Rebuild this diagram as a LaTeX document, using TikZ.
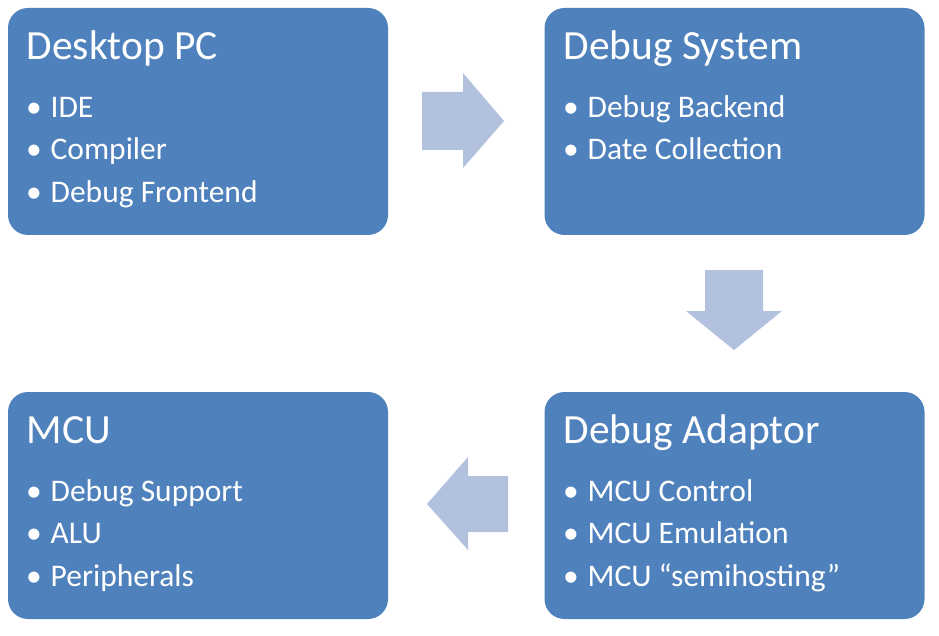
\documentclass[tikz,border=0pt]{standalone}
\usepackage{fontspec}
\setmainfont{Carlito}
\usepackage{tikz}

\definecolor{boxblue}{HTML}{4F81BD}
\definecolor{arrowblue}{HTML}{B2C1DD}
\newcommand{\itm}[1]{\makebox[24.5pt][l]{\textbullet}#1}

\begin{document}
\begin{tikzpicture}[x=1pt,y=-1pt]
\tikzstyle{every node}+=[inner sep=0pt]
\tikzset{
  box/.style={fill=boxblue, rounded corners=20pt, minimum width=380pt, minimum height=227pt},
  heading/.style={anchor=base west, text=white, font=\fontsize{41.5}{48}\selectfont},
  item/.style={anchor=base west, text=white, font=\fontsize{31.5}{36}\selectfont},
  blockarrow/.style={fill=arrowblue}
}
\useasboundingbox (0,0) rectangle (939,636);
% the four boxes
\node [box] (pc) at (198,121.5) {};
\node [box] (dbgsys) at (734.5,121.5) {};
\node [box] (mcu) at (198,505.5) {};
\node [box] (adaptor) at (734.5,505.5) {};
% desktop pc
\node [heading] (pcT) at (26.5,59.5) {Desktop PC};
\node [item] (pc1) at (26,117.5) {\itm{IDE}};
\node [item] (pc2) at (26,159.8) {\itm{Compiler}};
\node [item] (pc3) at (26,202.1) {\itm{Debug Frontend}};
% debug system
\node [heading] (dbgsysT) at (563.5,59.5) {Debug System};
\node [item] (dbgsys1) at (563,117.5) {\itm{Debug Backend}};
\node [item] (dbgsys2) at (563,159.8) {\itm{Date Collection}};
% mcu
\node [heading] (mcuT) at (26.5,443.5) {MCU};
\node [item] (mcu1) at (26,501.5) {\itm{Debug Support}};
\node [item] (mcu2) at (26,543.8) {\itm{ALU}};
\node [item] (mcu3) at (26,586.1) {\itm{Peripherals}};
% debug adaptor
\node [heading] (adaptorT) at (563.5,443.5) {Debug Adaptor};
\node [item] (adaptor1) at (563,501.5) {\itm{MCU Control}};
\node [item] (adaptor2) at (563,543.8) {\itm{MCU Emulation}};
\node [item] (adaptor3) at (563,586.1) {\itm{MCU “semihosting”}};
% block arrows
\fill [blockarrow] (422,92) -- (463,92) -- (463,73) -- (504,121) -- (463,168) -- (463,150) -- (422,150) -- cycle;
\fill [blockarrow] (705,270) -- (763,270) -- (763,311) -- (782,311) -- (734,350) -- (686,311) -- (705,311) -- cycle;
\fill [blockarrow] (508,476) -- (468,476) -- (468,457) -- (427,504) -- (468,550) -- (468,532) -- (508,532) -- cycle;
\end{tikzpicture}
\end{document}
